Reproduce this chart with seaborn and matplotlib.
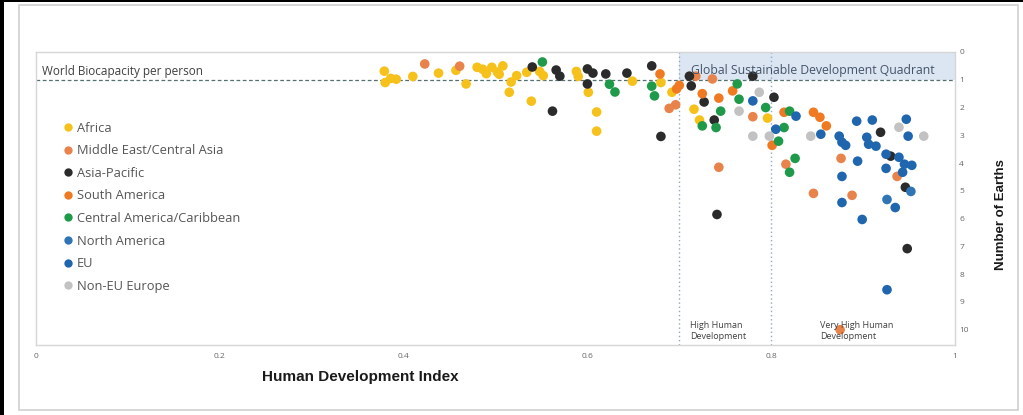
import matplotlib
matplotlib.use("Agg")
import matplotlib.pyplot as plt
import seaborn as sns
import pandas as pd
from matplotlib.patches import Rectangle
from matplotlib.lines import Line2D

# ---- data: Human Development Index vs. number of Earths per region ----
regions = ["Africa", "Middle East/Central Asia", "Asia-Pacific", "South America",
           "Central America/Caribbean", "North America", "EU", "Non-EU Europe"]
colors = ["#F5C11A", "#E9834C", "#2B2B2B", "#F07A22",
          "#1F9A4A", "#2F75B5", "#1F66AE", "#C2C2C2"]

africa_hdi = [0.379, 0.380, 0.386, 0.392, 0.410, 0.438, 0.457, 0.468, 0.480, 0.486,
              0.490, 0.496, 0.502, 0.508, 0.504, 0.517, 0.515, 0.523, 0.534, 0.539,
              0.548, 0.552, 0.588, 0.590, 0.601, 0.610, 0.610, 0.649, 0.692, 0.716,
              0.722, 0.796, 0.680]
africa_earths = [0.69, 1.10, 0.95, 0.98, 0.88, 0.76, 0.66, 1.15, 0.55, 0.62,
                 0.78, 0.55, 0.72, 0.50, 0.80, 1.08, 1.45, 0.85, 0.73, 1.77,
                 0.70, 0.85, 0.70, 0.88, 1.45, 2.16, 2.85, 1.05, 1.45, 2.06,
                 2.45, 2.38, 1.10]

mideast_hdi = [0.423, 0.461, 0.689, 0.696, 0.743, 0.846, 0.888, 0.875, 0.816, 0.876,
               0.937, 0.780, 0.736, 0.718]
mideast_earths = [0.43, 0.51, 2.03, 1.90, 4.15, 5.09, 5.16, 10.0, 4.04, 3.83,
                  4.48, 2.33, 0.97, 0.87]

asiapac_hdi = [0.540, 0.562, 0.566, 0.570, 0.600, 0.606, 0.620, 0.600, 0.643, 0.670,
               0.680, 0.711, 0.713, 0.727, 0.738, 0.780, 0.803, 0.919, 0.930, 0.946,
               0.948, 0.741]
asiapac_earths = [0.54, 2.13, 0.65, 0.87, 0.61, 0.76, 0.79, 1.15, 0.76, 0.50,
                  3.04, 0.87, 1.22, 1.80, 2.45, 0.87, 1.63, 2.89, 3.75, 4.87,
                  7.08, 5.85]

samerica_hdi = [0.679, 0.697, 0.725, 0.743, 0.758, 0.814, 0.846, 0.853, 0.860, 0.801,
                0.700]
samerica_earths = [0.79, 1.33, 1.50, 1.66, 1.40, 2.17, 2.17, 2.35, 2.66, 3.36,
                   1.20]

camerica_hdi = [0.551, 0.624, 0.630, 0.670, 0.673, 0.763, 0.765, 0.745, 0.794, 0.725,
                0.740, 0.820, 0.814, 0.808, 0.826, 0.820]
camerica_earths = [0.36, 1.16, 1.44, 1.23, 1.58, 1.15, 1.70, 2.13, 2.00, 2.66,
                   2.72, 2.13, 2.72, 3.21, 3.83, 4.33]

namerica_hdi = [0.952, 0.926]
namerica_earths = [5.02, 5.31]

eu_hdi = [0.780, 0.827, 0.854, 0.805, 0.874, 0.877, 0.881, 0.893, 0.910, 0.904,
          0.906, 0.914, 0.947, 0.949, 0.925, 0.939, 0.945, 0.953, 0.894, 0.925,
          0.943, 0.877, 0.877, 0.935, 0.899, 0.926]
eu_earths = [1.76, 2.31, 2.96, 2.78, 3.03, 3.25, 3.36, 2.49, 2.45, 3.07,
             3.32, 3.39, 2.42, 3.03, 3.68, 3.79, 4.04, 4.08, 3.93, 4.19,
             4.33, 4.48, 5.42, 5.60, 6.03, 8.56]

noneu_hdi = [0.787, 0.765, 0.843, 0.780, 0.798, 0.939, 0.966]
noneu_earths = [1.45, 2.13, 3.03, 3.03, 3.03, 2.71, 3.03]

x_ticks = [0, 0.2, 0.4, 0.6, 0.8, 1]
x_tick_labels = ["0", "0.2", "0.4", "0.6", "0.8", "1"]
y_ticks = list(range(0, 11))

biocapacity_level = 1
high_hdi_threshold = 0.7
very_high_hdi_threshold = 0.8

series = [
    (africa_hdi, africa_earths),
    (mideast_hdi, mideast_earths),
    (asiapac_hdi, asiapac_earths),
    (samerica_hdi, samerica_earths),
    (camerica_hdi, camerica_earths),
    (namerica_hdi, namerica_earths),
    (eu_hdi, eu_earths),
    (noneu_hdi, noneu_earths),
]
frames = [pd.DataFrame({"hdi": h, "earths": e, "region": r})
          for r, (h, e) in zip(regions, series)]
df = pd.concat(frames, ignore_index=True)

# ---- figure ----
sns.set_theme(style="white")
plt.rcParams["font.family"] = ["Open Sans", "DejaVu Sans"]

fig = plt.figure(figsize=(10.23, 4.15), dpi=100)
ax = fig.add_axes([36 / 1023, 1 - 345 / 415, 919 / 1023, 293 / 415])

# shaded sustainable quadrant
ax.add_patch(Rectangle((high_hdi_threshold, 0), 1 - high_hdi_threshold, biocapacity_level,
                       facecolor="#DCE5F2", edgecolor="none", zorder=0))

# threshold lines
ax.axhline(biocapacity_level, color="#557070", lw=0.9, ls=(0, (3, 2)), zorder=1)
for t in (high_hdi_threshold, very_high_hdi_threshold):
    ax.axvline(t, color="#8FA9C8", lw=1.0, ls=(0, (1, 2)), zorder=1)

sns.scatterplot(data=df, x="hdi", y="earths", hue="region", hue_order=regions,
                palette=dict(zip(regions, colors)), s=48, linewidth=0,
                ax=ax, zorder=3)

ax.set_xlim(0, 1)
ax.set_ylim(10.55, 0)
ax.set_xticks(x_ticks)
ax.set_xticklabels(x_tick_labels)
ax.set_yticks(y_ticks)
ax.yaxis.tick_right()
ax.tick_params(axis="x", labelsize=6, colors="#666666", length=0, pad=6)
ax.tick_params(axis="y", labelsize=6, colors="#666666", length=0, pad=3)
for sp in ax.spines.values():
    sp.set_color("#D6D6D6")
    sp.set_linewidth(1.0)

ax.set_xlabel("Human Development Index", fontsize=11, fontweight="bold",
              color="#1a1a1a", family=["Liberation Sans", "DejaVu Sans"])
ax.xaxis.set_label_coords((360 - 36) / 919, -0.085)
ax.yaxis.set_label_position("right")
ax.set_ylabel("Number of Earths", fontsize=9.5, fontweight="bold", color="#1a1a1a",
              family=["Liberation Sans Narrow", "Liberation Sans", "DejaVu Sans"],
              rotation=90)
ax.yaxis.set_label_coords((995 - 36) / 919, 0.5 + (345 - 215 - 146.5) / 293)

# annotations
ax.text(0.006, 0.72, "World Biocapacity per person", fontsize=8.5, color="#404040",
        va="center", ha="left")
ax.text(0.713, 0.68, "Global Sustainable Development Quadrant", fontsize=8.8,
        color="#44546A", va="center", ha="left")
ax.text(0.712, 10.05, "High Human\nDevelopment", fontsize=6.5, color="#404040",
        va="center", ha="left", linespacing=1.3)
ax.text(0.853, 10.05, "Very High Human\nDevelopment", fontsize=6.5, color="#404040",
        va="center", ha="left", linespacing=1.3)

# legend
handles = [Line2D([0], [0], marker="o", ls="none", markersize=6,
                  markerfacecolor=c, markeredgewidth=0) for c in colors]
ax.legend(handles, regions, loc="upper left", bbox_to_anchor=(0.028, 0.762),
          frameon=False, fontsize=9.3, labelspacing=0.74, handletextpad=0.2,
          handlelength=1.0, borderpad=0, borderaxespad=0, labelcolor="#555555")

# page frame
fig.patches.append(Rectangle((19 / 1023, 1 - 410 / 415), 999 / 1023, 405 / 415,
                             transform=fig.transFigure, fill=False,
                             edgecolor="#D0D0D0", lw=1.2))
fig.patches.append(Rectangle((0, 0), 3.5 / 1023, 1, transform=fig.transFigure,
                             facecolor="black", edgecolor="none"))
fig.patches.append(Rectangle((0, 1 - 2.5 / 415), 1, 2.5 / 415, transform=fig.transFigure,
                             facecolor="black", edgecolor="none"))

fig.savefig("out.png", dpi=100)
